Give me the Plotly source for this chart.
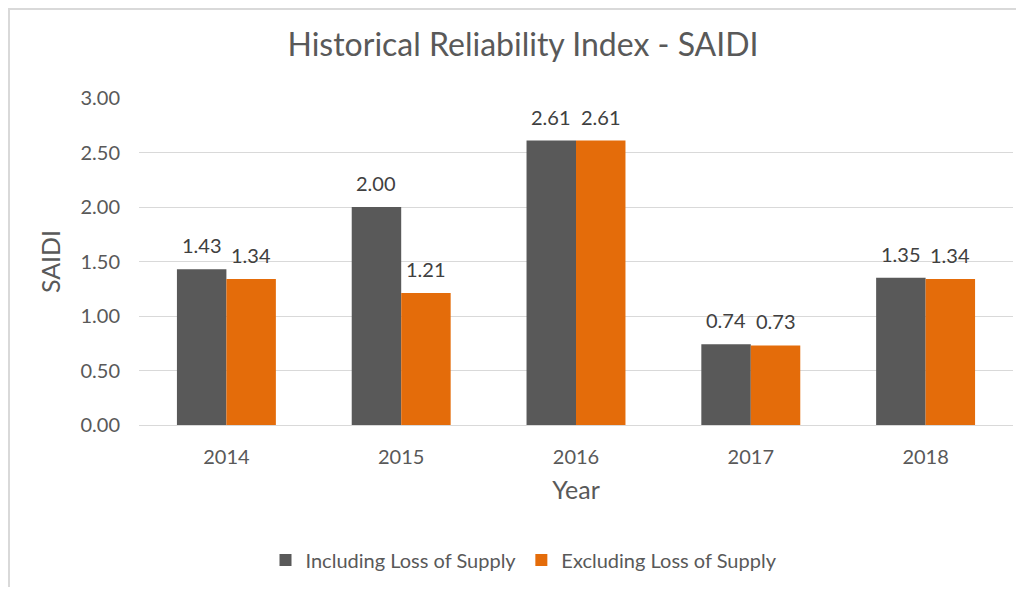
import plotly.graph_objects as go

years = ["2014", "2015", "2016", "2017", "2018"]
including = [1.43, 2.00, 2.61, 0.74, 1.35]
excluding = [1.34, 1.21, 2.61, 0.73, 1.34]
series_names = ["Including Loss of Supply", "Excluding Loss of Supply"]
colors = ["#595959", "#E46C0A"]
y_ticks = [0, 0.5, 1.0, 1.5, 2.0, 2.5, 3.0]

OFF = 8  # body margin of the page
W, H = 1008, 579
L, R, T, B = 131, 3, 90, 162
pw, ph = W - L - R, H - T - B

def px2x(p):
    return (p - OFF - L) / pw

def py2y(p):
    return (H - B - (p - OFF)) / ph

FONT = "Lato"
TXT = "#595959"
fig = go.Figure()
for name, vals, c in zip(series_names, [including, excluding], colors):
    fig.add_trace(go.Bar(
        x=years, y=vals, name=name, marker=dict(color=c, line=dict(width=0)),
        hoverinfo="x+y",
    ))

# data labels placed above each bar (x given as category index)
bar_half = pw / len(years) * (1 - 0.434) / 4
for vals, sign in zip([including, excluding], [-1, 1]):
    for i, v in enumerate(vals):
        fig.add_annotation(x=i, y=v, xref="x", yref="y", text=f"{v:.2f}",
                           showarrow=False, xshift=sign * bar_half, yshift=24,
                           xanchor="center", yanchor="middle",
                           font=dict(family=FONT, size=20, color="#404040"))

fig.update_layout(
    width=W, height=H,
    margin=dict(l=L, r=R, t=T, b=B, autoexpand=False),
    paper_bgcolor="white", plot_bgcolor="white",
    barmode="group", bargap=0.434, bargroupgap=0,
    font=dict(family=FONT, color=TXT),
    title=dict(text="Historical Reliability Index - SAIDI", x=px2x(523), xref="paper",
               xanchor="center", y=1 - (45 - OFF) / H, yanchor="middle",
               font=dict(family=FONT, size=32, color=TXT)),
    xaxis=dict(type="category", categoryorder="array", categoryarray=years,
               range=[-0.5, len(years) - 0.5],
               showgrid=False, showline=False, ticks="", ticklabelstandoff=18,
               tickfont=dict(family=FONT, size=20, color=TXT),
               title=dict(text="Year", standoff=14, font=dict(family=FONT, size=25, color=TXT))),
    yaxis=dict(range=[0, 3], tickvals=y_ticks, tickformat=".2f",
               showgrid=True, gridcolor="#D9D9D9", gridwidth=1,
               zeroline=True, zerolinecolor="#D9D9D9", zerolinewidth=1,
               showline=False, ticks="", ticklabelstandoff=18,
               tickfont=dict(family=FONT, size=20, color=TXT),
               title=dict(text="SAIDI", standoff=12, font=dict(family=FONT, size=25, color=TXT))),
    legend=dict(orientation="h", x=px2x(524), xanchor="center", y=py2y(560), yanchor="middle",
                font=dict(family=FONT, size=20, color=TXT), itemwidth=30,
                traceorder="normal"),
    showlegend=True,
)

fig.add_shape(type="rect", xref="paper", yref="paper",
              x0=px2x(9), x1=px2x(1040), y0=py2y(9), y1=py2y(620),
              line=dict(color="#D9D9D9", width=2), fillcolor="rgba(0,0,0,0)", layer="below")

fig.write_html("out.html")
